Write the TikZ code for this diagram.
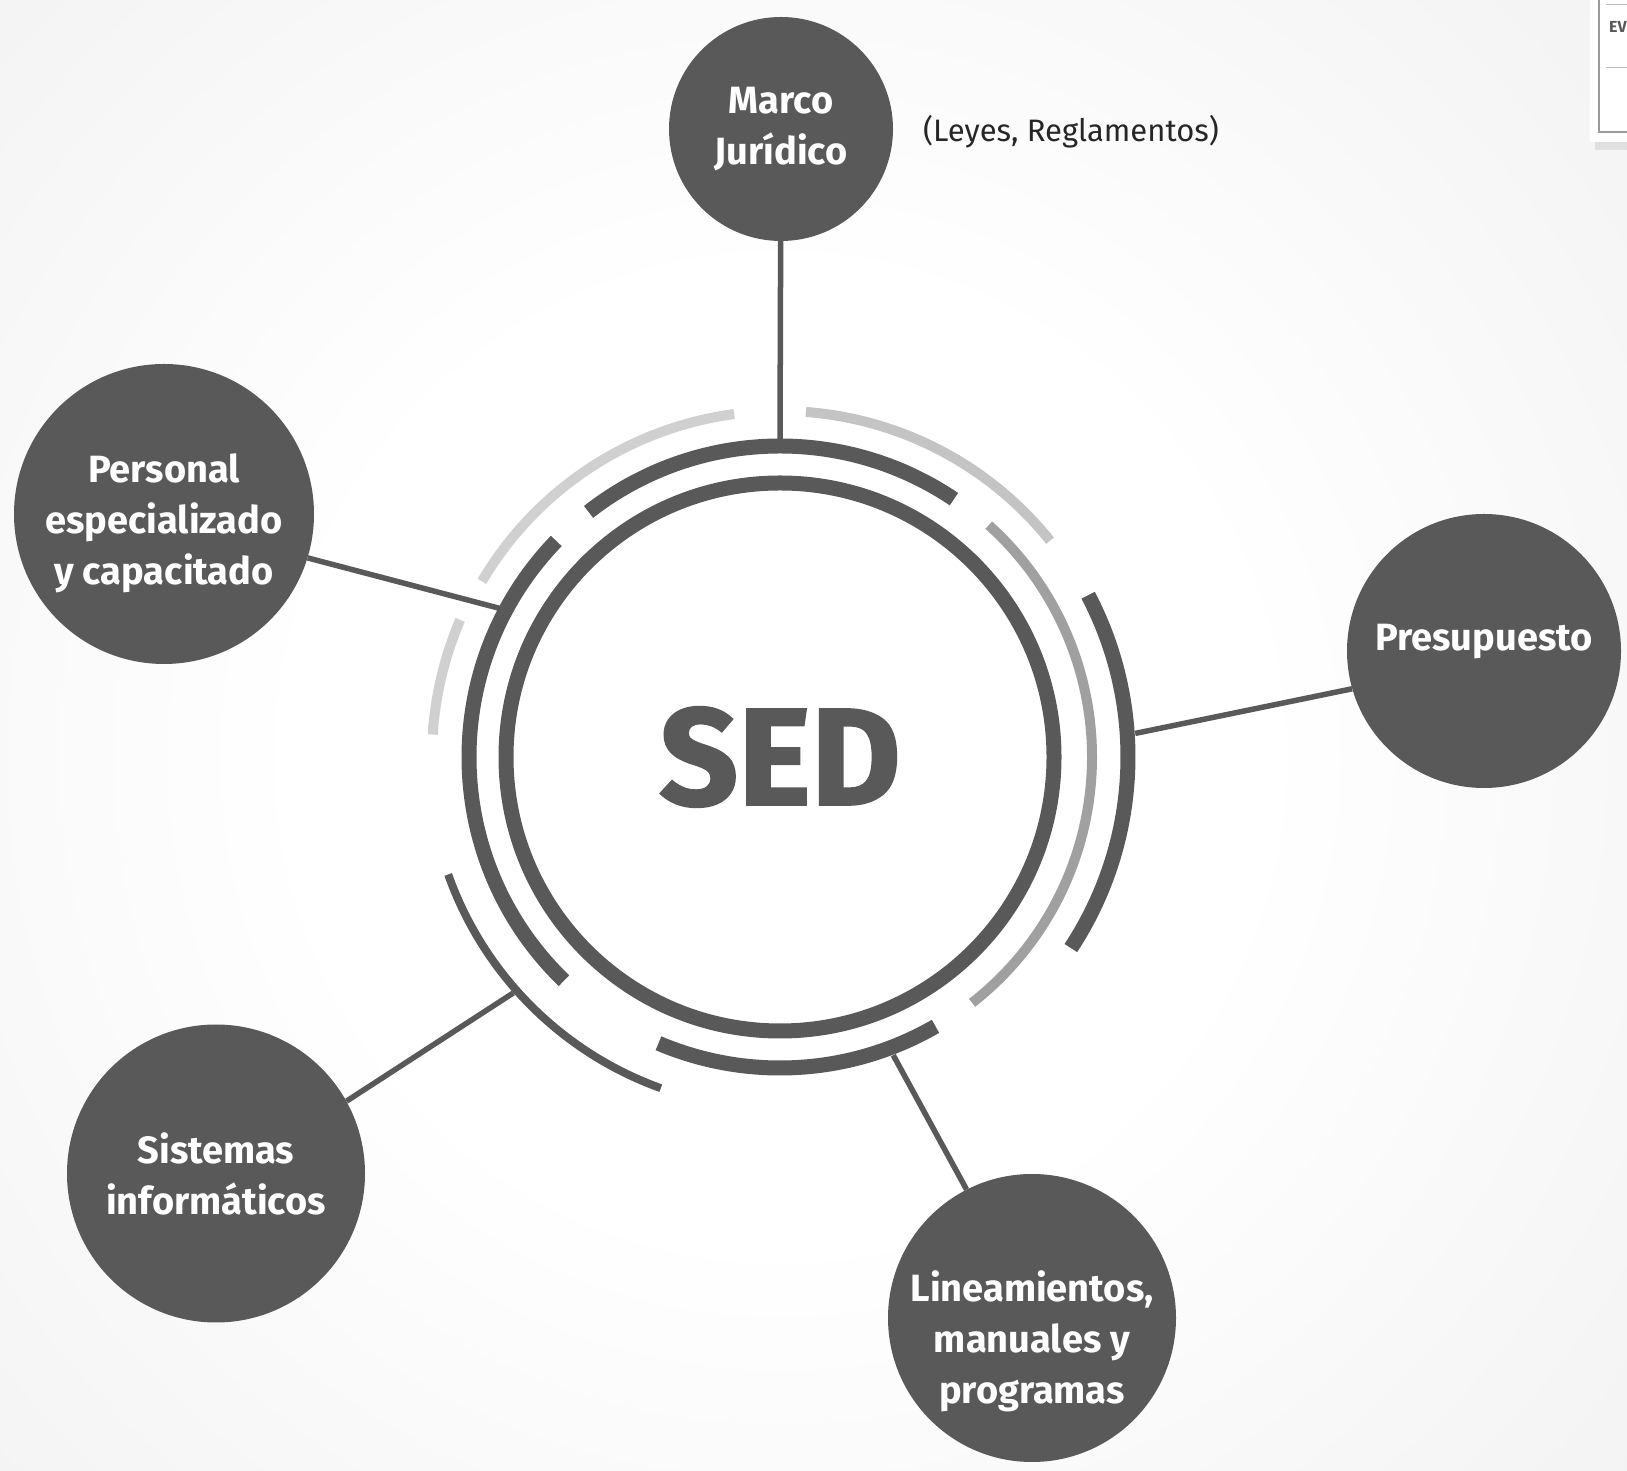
\documentclass[tikz,border=0pt]{standalone}
\usepackage{fontspec}
\setmainfont{Fira Sans}
\newfontfamily\labelfont{Fira Sans}
\newfontfamily\sedfont{Fira Sans}[BoldFeatures={FakeBold=1.5}]
\usetikzlibrary{calc}
\definecolor{dk}{HTML}{595959}
\definecolor{lgA}{HTML}{D0D0D0}
\definecolor{lgB}{HTML}{C4C4C4}
\definecolor{mg}{HTML}{A0A0A0}
\definecolor{bgA}{HTML}{F6F6F6}
\definecolor{bgB}{HTML}{EBEBEB}
\definecolor{bgC}{HTML}{E1E1E1}
\definecolor{frameg}{HTML}{9A9A9A}
\pgfdeclareradialshading{bgshade}{\pgfpoint{0bp}{0bp}}{color(0bp)=(white); color(8bp)=(white); color(16bp)=(bgA); color(26bp)=(bgB); color(36bp)=(bgC); color(50bp)=(bgC)}
\tikzset{
  bubble/.style={circle, fill=dk, draw=none, inner sep=0pt},
  bubbletext/.style={text=white, align=center, inner sep=0pt,
    font={\labelfont\bfseries\fontsize{38}{51}\selectfont}},
  conn/.style={draw=dk, line width=5.5pt},
  darkarc/.style={draw=dk, line width=15pt},
  thinarc/.style={draw=dk, line width=8pt},
  lightarc/.style={draw=lgA, line width=10pt},
  lightarcB/.style={draw=lgB, line width=10pt},
  midarc/.style={draw=mg, line width=10pt},
}
\newcommand\ringarc[4]{\draw[#1] ([shift={(#2:#4)}]C) arc[start angle=#2, end angle=#3, radius=#4];}
\begin{document}
\begin{tikzpicture}[x=1pt,y=1pt]
\useasboundingbox (0,0) rectangle (1627,1470);
\clip (0,0) rectangle (1627,1470);
\coordinate (C) at (780,713);
% background
\fill[bgC] (0,0) rectangle (1627,1470);
\shade[shading=bgshade] (C) circle (1500);
% top-right window fragment
\fill[gray!40, opacity=0.5] (1595,1320) rectangle (1627,1328);
\fill[white] (1590,1328) rectangle (1627,1470);
\draw[frameg, line width=1.5pt] (1599,1470) -- (1599,1338) -- (1627,1338);
\draw[gray!50, line width=1pt] (1606,1465) -- (1627,1465);
\draw[gray!50, line width=1pt] (1606,1402) -- (1627,1402);
\node[anchor=base west, inner sep=0pt, text=dk, font={\labelfont\bfseries\fontsize{16}{18}\selectfont}] (ev) at (1609,1437) {EV};
% rings: second ring (r=311)
\ringarc{darkarc}{56}{128}{311}
\ringarc{darkarc}{136}{226}{311}
\ringarc{darkarc}{247}{300}{311}
\ringarc{midarc}{-52}{48}{312}
% third ring (r~347)
\ringarc{lightarc}{97.6}{149.5}{346}
\ringarc{lightarcB}{38.7}{85.7}{346}
\ringarc{lightarc}{156.8}{176.3}{348}
\ringarc{darkarc}{-33.3}{27.7}{348}
\ringarc{thinarc}{199.5}{250.2}{352}
% center
\node[circle, minimum size=548pt, fill=white, draw=dk, line width=15pt, inner sep=0pt,
  font={\sedfont\bfseries\fontsize{138}{138}\selectfont}, text=dk] (sed) at (C) {SED};
% outer bubbles
\node[bubble, minimum size=224pt] (marco) at (781,1341) {};
\node[bubble, minimum size=300pt] (pers) at (164,956) {};
\node[bubble, minimum size=274pt] (pres) at (1484,819) {};
\node[bubble, minimum size=298pt] (sist) at (216,296.5) {};
\node[bubble, minimum size=288pt] (lin) at (1032,152) {};
% texts
\node[bubbletext] (tmarco) at (781,1340.5) {Marco\\Jurídico};
\node[bubbletext] (tpers) at (164,947) {Personal\\especializado\\y capacitado};
\node[bubbletext] (tpres) at (1484,828) {Presupuesto};
\node[bubbletext] (tsist) at (216,296) {Sistemas\\informáticos};
\node[bubbletext] (tlin) at (1032,128.5) {Lineamientos,\\manuales y\\programas};
\node[inner sep=0pt, text=black!85, font={\labelfont\fontsize{31}{36}\selectfont}] (leyes) at (1071,1338) {(Leyes, Reglamentos)};
% connector end points on the rings
\coordinate (mend) at ($(C)+(90:318)$);
\coordinate (pend) at ($(C)+(152.1:318)$);
\coordinate (prend) at ($(C)+(3.8:356)$);
\coordinate (send) at ($(C)+(221.5:356)$);
\coordinate (lend) at ($(C)+(-69.2:319)$);
% connectors
\draw[conn] (marco) -- (mend);
\draw[conn] (pers.-17) -- (pend);
\draw[conn] (pres.196) -- (prend);
\draw[conn] (sist.29.6) -- (send);
\draw[conn] (lin.117.4) -- (lend);
\end{tikzpicture}
\end{document}
